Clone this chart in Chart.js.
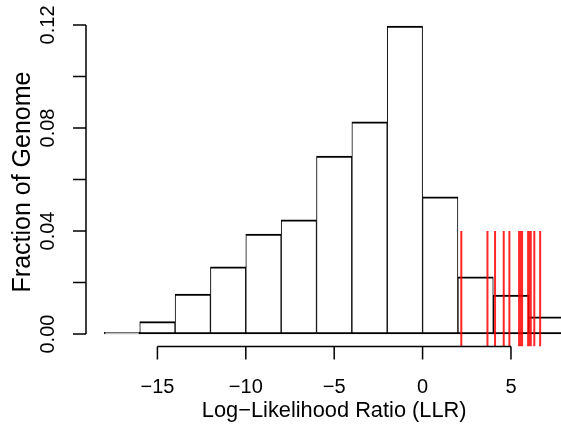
<!DOCTYPE html>
<html>
<head>
<meta charset="utf-8">
<script src="https://cdn.jsdelivr.net/npm/chart.js@4.4.1/dist/chart.umd.min.js"></script>
<style>
  html, body { margin: 0; padding: 0; background: #fff; overflow: hidden; }
  #wrap { position: relative; width: 561px; height: 427px; }
</style>
</head>
<body>
<div id="wrap"><canvas id="llr"></canvas></div>
<script>
// LLR histogram: bins of width 2 starting at -18
const binCenters = [-17, -15, -13, -11, -9, -7, -5, -3, -1, 1, 3, 5, 7];
const fractions  = [0.0007, 0.0048, 0.0155, 0.0261, 0.0388, 0.0443, 0.0691, 0.0824, 0.1196, 0.0533, 0.0222, 0.0151, 0.0067];

// marked LLR values, drawn as red verticals up to markTop
const markedLLR = [2.19, 3.67, 4.10, 4.59, 4.91, 5.46, 5.53, 5.63, 5.97, 6.04, 6.12, 6.32, 6.65];
const markTop   = 0.04;

// axis ticks
const xTicks    = [-15, -10, -5, 0, 5];
const yTicks    = [0, 0.02, 0.04, 0.06, 0.08, 0.10, 0.12];
const yLabelled = [0, 0.04, 0.08, 0.12];

const X_MIN = -19.04, X_MAX = 7.83;
const Y_MIN = -0.0048, Y_MAX = 0.1248;

const FAMILY = '"Liberation Sans", Arial, sans-serif';
const minus = s => s.replace('-', '\u2212');

const histData = binCenters.map((c, i) => ({ x: c, y: fractions[i] }));

const markData = [];
markedLLR.forEach(v => {
    markData.push({ x: v, y: Y_MIN }, { x: v, y: markTop }, { x: v, y: null });
});

// base-graphics style axes: detached lines, outward ticks, rotated y labels
const rAxes = {
    id: 'rAxes',
    afterDraw(chart) {
        const { ctx, chartArea: a, scales: { x, y } } = chart;
        const tick = 13;
        ctx.save();
        ctx.strokeStyle = '#000';
        ctx.fillStyle = '#000';
        ctx.lineWidth = 1.5;
        ctx.textAlign = 'center';
        ctx.textBaseline = 'middle';

        // x axis
        const yb = a.bottom;
        ctx.beginPath();
        ctx.moveTo(x.getPixelForValue(xTicks[0]), yb);
        ctx.lineTo(x.getPixelForValue(xTicks[xTicks.length - 1]), yb);
        xTicks.forEach(t => {
            const px = x.getPixelForValue(t);
            ctx.moveTo(px, yb);
            ctx.lineTo(px, yb + tick);
        });
        ctx.stroke();
        ctx.font = '20px ' + FAMILY;
        xTicks.forEach(t => ctx.fillText(minus(String(t)), x.getPixelForValue(t), 387));
        ctx.font = '21.8px ' + FAMILY;
        ctx.fillText('Log\u2212Likelihood Ratio (LLR)', (a.left + x.getPixelForValue(9.04)) / 2, 411);

        // y axis
        const xl = a.left;
        ctx.beginPath();
        ctx.moveTo(xl, y.getPixelForValue(yTicks[0]));
        ctx.lineTo(xl, y.getPixelForValue(yTicks[yTicks.length - 1]));
        yTicks.forEach(t => {
            const py = y.getPixelForValue(t);
            ctx.moveTo(xl, py);
            ctx.lineTo(xl - tick, py);
        });
        ctx.stroke();
        ctx.font = '20px ' + FAMILY;
        yLabelled.forEach(t => {
            ctx.save();
            ctx.translate(48, y.getPixelForValue(t));
            ctx.rotate(-Math.PI / 2);
            ctx.fillText(t.toFixed(2), 0, 0);
            ctx.restore();
        });
        ctx.font = '25px ' + FAMILY;
        ctx.save();
        ctx.translate(23, 182);
        ctx.rotate(-Math.PI / 2);
        ctx.fillText('Fraction of Genome', 0, 0);
        ctx.restore();
        ctx.restore();
    }
};

new Chart(document.getElementById('llr'), {
    type: 'bar',
    data: {
        datasets: [
            {
                type: 'line',
                data: markData,
                borderColor: 'rgba(255,0,0,0.85)',
                borderWidth: 2,
                pointRadius: 0,
                spanGaps: false,
                order: 0,
            },
            {
                type: 'bar',
                data: histData,
                backgroundColor: '#fff',
                borderColor: '#000',
                borderWidth: { top: 2, bottom: 2, left: 1, right: 1 },
                borderSkipped: false,
                barPercentage: 1,
                categoryPercentage: 1,
                order: 1,
            },
        ],
    },
    options: {
        responsive: true,
        maintainAspectRatio: false,
        animation: false,
        layout: { padding: { left: 86, top: 12.6, right: 0, bottom: 80.6 } },
        plugins: { legend: { display: false }, tooltip: { enabled: false } },
        scales: {
            x: { type: 'linear', min: X_MIN, max: X_MAX, offset: false, display: false },
            y: { type: 'linear', min: Y_MIN, max: Y_MAX, display: false },
        },
    },
    plugins: [rAxes],
});
</script>
</body>
</html>
